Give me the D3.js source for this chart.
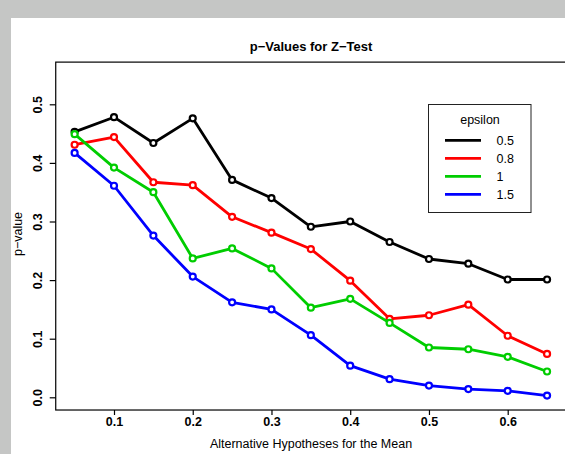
<!DOCTYPE html>
<html>
<head>
<meta charset="utf-8">
<script src="https://cdn.jsdelivr.net/npm/d3@7"></script>
<style>
  html, body { margin: 0; padding: 0; background: #c5c6c5; }
  svg { display: block; font-family: "Liberation Sans", Arial, Helvetica, sans-serif; }
</style>
</head>
<body>
<div id="holder"></div>
<script>
const w = 565;
const h = 454;

// DATA
const means = [0.05, 0.10, 0.15, 0.20, 0.25, 0.30, 0.35, 0.40, 0.45, 0.50, 0.55, 0.60, 0.65];
const epsilons = ["0.5", "0.8", "1", "1.5"];
const colors = ["#000000", "#ff0000", "#00cd00", "#0000ff"];
const pEps05 = [0.453, 0.478, 0.434, 0.476, 0.371, 0.340, 0.291, 0.300, 0.265, 0.236, 0.228, 0.201, 0.201];
const pEps08 = [0.431, 0.444, 0.367, 0.362, 0.308, 0.281, 0.253, 0.199, 0.134, 0.140, 0.158, 0.105, 0.074];
const pEps1 = [0.449, 0.392, 0.350, 0.237, 0.254, 0.220, 0.153, 0.168, 0.127, 0.085, 0.082, 0.069, 0.044];
const pEps15 = [0.417, 0.361, 0.276, 0.206, 0.162, 0.150, 0.106, 0.054, 0.031, 0.020, 0.014, 0.011, 0.003];
const series = [pEps05, pEps08, pEps1, pEps15];
const xTicks = [0.1, 0.2, 0.3, 0.4, 0.5, 0.6];
const yTicks = [0.0, 0.1, 0.2, 0.3, 0.4, 0.5];

// CREATE SVG
const svg = d3.select("#holder")
    .append("svg")
    .attr("width", w)
    .attr("height", h)

// white page area (gray frame top/left)
svg.append("rect")
    .attr("x", 11).attr("y", 18)
    .attr("width", w - 11).attr("height", h - 18)
    .attr("fill", "#ffffff")

// SCALES
const xScale = d3.scaleLinear()
    .domain([0.1, 0.6])
    .range([114, 507.7])

const yScale = d3.scaleLinear()
    .domain([0, 0.5])
    .range([397.3, 104.3])

const xMin = 0.026, xMax = 0.674;
const yMin = -0.0217, yMax = 0.572;

// BOX
svg.append("rect")
    .attr("x", xScale(xMin))
    .attr("y", yScale(yMax))
    .attr("width", xScale(xMax) - xScale(xMin))
    .attr("height", yScale(yMin) - yScale(yMax))
    .attr("fill", "none")
    .attr("stroke", "#000")
    .attr("stroke-width", 1.2)

// X AXIS
const xAxis = d3.axisBottom(xScale)
    .tickValues(xTicks)
    .tickFormat(d3.format(".1f"))
    .tickSize(5)
    .tickSizeOuter(0)

const gx = svg.append("g")
    .attr("transform", "translate(0," + yScale(yMin) + ")")
    .call(xAxis)
gx.select(".domain").remove()
gx.selectAll("line").attr("stroke", "#000").attr("stroke-width", 1.2)
gx.selectAll("text")
    .attr("y", 12)
    .attr("dy", "0.35em")
    .attr("fill", "#000")
    .style("font-family", "Liberation Sans, Arial, sans-serif")
    .style("font-size", "12.5px")
    .style("font-weight", "bold")

// Y AXIS
const yAxis = d3.axisLeft(yScale)
    .tickValues(yTicks)
    .tickFormat(d3.format(".1f"))
    .tickSize(6)
    .tickSizeOuter(0)

const gy = svg.append("g")
    .attr("transform", "translate(" + xScale(xMin) + ",0)")
    .call(yAxis)
gy.select(".domain").remove()
gy.selectAll("line").attr("stroke", "#000").attr("stroke-width", 1.2)
gy.selectAll("text")
    .attr("x", null)
    .attr("dy", null)
    .attr("transform", "translate(-18,0) rotate(-90)")
    .attr("text-anchor", "middle")
    .attr("dy", "0.35em")
    .attr("fill", "#000")
    .style("font-family", "Liberation Sans, Arial, sans-serif")
    .style("font-size", "12.5px")
    .style("font-weight", "bold")

// TITLES
svg.append("text")
    .attr("x", 311)
    .attr("y", 50.5)
    .attr("text-anchor", "middle")
    .style("font-size", "13px")
    .style("font-weight", "bold")
    .text("p\u2212Values for Z\u2212Test")

svg.append("text")
    .attr("x", 311)
    .attr("y", 447.5)
    .attr("text-anchor", "middle")
    .style("font-size", "12.5px")
    .text("Alternative Hypotheses for the Mean")

svg.append("text")
    .attr("transform", "translate(18,234) rotate(-90)")
    .attr("text-anchor", "middle")
    .attr("dy", "0.35em")
    .style("font-size", "12.5px")
    .text("p\u2212value")

// LINES AND POINTS
const line = d3.line()
    .x((d, i) => xScale(means[i]))
    .y(d => yScale(d))

series.forEach((vals, k) => {
    svg.append("path")
        .datum(vals)
        .attr("d", line)
        .attr("fill", "none")
        .attr("stroke", colors[k])
        .attr("stroke-width", 2.8)
        .attr("stroke-linejoin", "round")

    svg.selectAll(".pt" + k)
        .data(vals)
        .enter()
        .append("circle")
        .attr("class", "pt" + k)
        .attr("cx", (d, i) => xScale(means[i]))
        .attr("cy", d => yScale(d))
        .attr("r", 3)
        .attr("fill", "#fff")
        .attr("stroke", colors[k])
        .attr("stroke-width", 2.2)
})

// LEGEND
const legend = svg.append("g")

legend.append("rect")
    .attr("x", 428.5)
    .attr("y", 104.5)
    .attr("width", 102.5)
    .attr("height", 108)
    .attr("fill", "#fff")
    .attr("stroke", "#222")
    .attr("stroke-width", 1)

legend.append("text")
    .attr("x", 480)
    .attr("y", 120)
    .attr("dy", "0.35em")
    .attr("text-anchor", "middle")
    .style("font-size", "12.5px")
    .text("epsilon")

epsilons.forEach((e, k) => {
    const ly = 140.3 + k * 18;
    legend.append("line")
        .attr("x1", 445).attr("x2", 481)
        .attr("y1", ly).attr("y2", ly)
        .attr("stroke", colors[k])
        .attr("stroke-width", 2.8)
    legend.append("text")
        .attr("x", 496.5)
        .attr("y", ly)
        .attr("dy", "0.35em")
        .style("font-size", "12.5px")
        .text(e)
})
</script>
</body>
</html>
